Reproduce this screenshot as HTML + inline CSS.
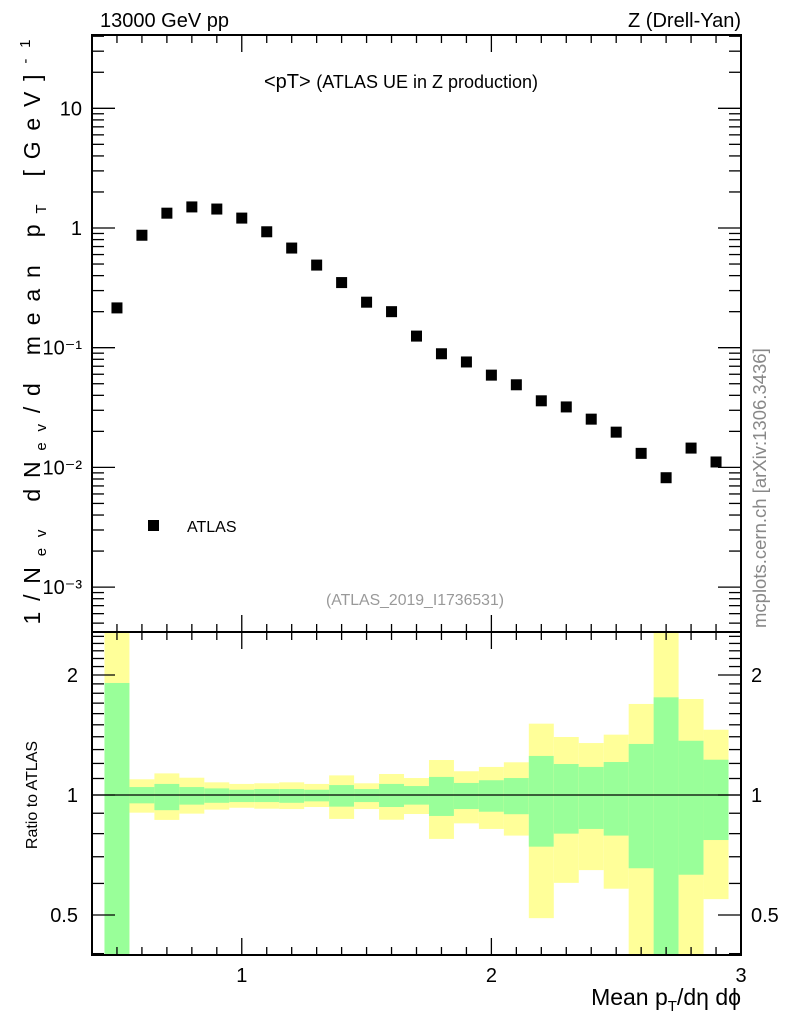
<!DOCTYPE html>
<html><head><meta charset="utf-8"><style>
body{margin:0;background:#fff}
svg text{font-family:"Liberation Sans",sans-serif}
</style></head><body>
<svg id="c" width="786" height="1024" xmlns="http://www.w3.org/2000/svg">
<text x="100" y="27" font-size="20">13000 GeV pp</text>
<text x="741" y="27" font-size="20" text-anchor="end">Z (Drell-Yan)</text>
<text x="264" y="88" font-size="20">&lt;pT&gt; <tspan font-size="18">(ATLAS UE in Z production)</tspan></text>
<text x="415" y="605" font-size="15.8" fill="#999" text-anchor="middle">(ATLAS_2019_I1736531)</text>
<text transform="translate(766,628) rotate(-90)" font-size="18.5" fill="#888">mcplots.cern.ch [arXiv:1306.3436]</text>
<text transform="translate(40,332) rotate(-90)" font-size="23" text-anchor="middle" textLength="585">1/N<tspan font-size="15" dy="6">ev</tspan><tspan dy="-6"> dN</tspan><tspan font-size="15" dy="6">ev</tspan><tspan dy="-6">/d mean p</tspan><tspan font-size="15" dy="6">T</tspan><tspan dy="-6"> [GeV]</tspan><tspan font-size="15" dy="-10">-1</tspan></text>
<text transform="translate(37,795) rotate(-90)" font-size="16" text-anchor="middle">Ratio to ATLAS</text>
<text x="741" y="1005" font-size="23" text-anchor="end">Mean p<tspan font-size="15" dy="6">T</tspan><tspan dy="-6">/dη dϕ</tspan></text>
<g id="g"></g>
</svg>
<script>
const xCenters=[0.5,0.6,0.7,0.8,0.9,1.0,1.1,1.2,1.3,1.4,1.5,1.6,1.7,1.8,1.9,2.0,2.1,2.2,2.3,2.4,2.5,2.6,2.7,2.8,2.9];
const atlasValues=[0.215,0.87,1.33,1.5,1.44,1.21,0.93,0.68,0.49,0.35,0.24,0.2,0.125,0.089,0.076,0.059,0.049,0.036,0.032,0.0253,0.0197,0.0131,0.0082,0.0145,0.0111];
const totalUp=[3.0,1.095,1.133,1.105,1.076,1.066,1.070,1.076,1.066,1.120,1.070,1.129,1.103,1.224,1.147,1.176,1.208,1.510,1.398,1.350,1.417,1.692,3.0,1.741,1.458];
const statUp=[1.91,1.047,1.066,1.047,1.039,1.031,1.035,1.035,1.031,1.059,1.035,1.066,1.053,1.110,1.072,1.089,1.103,1.253,1.196,1.176,1.210,1.343,1.758,1.368,1.226];
const statDown=[0.3,0.953,0.916,0.946,0.956,0.960,0.960,0.956,0.964,0.935,0.960,0.933,0.946,0.886,0.922,0.908,0.895,0.742,0.800,0.822,0.791,0.655,0.3,0.631,0.771];
const totalDown=[0.3,0.903,0.866,0.898,0.919,0.929,0.924,0.922,0.933,0.871,0.922,0.867,0.896,0.776,0.849,0.822,0.791,0.491,0.602,0.648,0.582,0.3,0.3,0.3,0.548];
const mainTicks=["10\u207B\u00B3","10\u207B\u00B2","10\u207B\u00B9","1","10"];
const ratioTicks=[0.5,1,2];
const xTicks=[1,2,3];
const binWidth=0.1;

const L=92,R=741,T=35,M=632,B=955;
const X0=0.4,X1=3.0;
const sx=v=>L+(v-X0)/(X1-X0)*(R-L);
const sy=v=>228-Math.log10(v)*119.7;
const RT=2.56,RB=0.397;
const sr=v=>{v=Math.min(RT,Math.max(RB,v));return 795-Math.log2(v)*120;};
const g=document.getElementById('g');
const NS='http://www.w3.org/2000/svg';
function mk(t,a){const e=document.createElementNS(NS,t);for(const k in a)e.setAttribute(k,a[k]);g.appendChild(e);return e;}

xCenters.forEach((x,i)=>{
  const x0=sx(x-binWidth/2),x1=sx(x+binWidth/2);
  let e=mk('rect',{x:x0,y:sr(totalUp[i]),width:x1-x0,height:sr(totalDown[i])-sr(totalUp[i]),fill:'#ffff99'});
  
  
  e=mk('rect',{x:x0,y:sr(statUp[i]),width:x1-x0,height:sr(statDown[i])-sr(statUp[i]),fill:'#99ff99'});
  
  
});
let ln=mk('line',{x1:L,x2:R,y1:sr(1),y2:sr(1),stroke:'#000','stroke-width':1.2});



xCenters.forEach((x,i)=>{
  const p=mk('rect',{x:sx(x)-5.5,y:sy(atlasValues[i])-5.5,width:11,height:11,fill:'#000'});
  
  
});
let lg=mk('rect',{x:148,y:520,width:11,height:11,fill:'#000'});


let lt=mk('text',{x:187,y:532,'font-size':16});lt.textContent='ATLAS';



[[T,M],[M,B]].forEach(([a,b])=>{
  const f=mk('rect',{x:L,y:a,width:R-L,height:b-a,fill:'none',stroke:'#000','stroke-width':2});
  
  
});
function tk(x1,y1,x2,y2){mk('line',{x1,y1,x2,y2,stroke:'#000','stroke-width':1.3});}
for(let k=4;k<=30;k++){
  const v=k/10,x=sx(v),maj=(k%10===0);
  const l=maj?17:8;
  tk(x,T,x,T+l);tk(x,M,x,M-l);tk(x,M,x,M+l);tk(x,B,x,B-l);
}
xTicks.forEach(v=>{const t=mk('text',{x:sx(v),y:982,'font-size':20,'text-anchor':'middle'});t.textContent=v;

});
for(let d=-4;d<=1;d++){
  for(let m=1;m<=9;m++){
    const v=m*Math.pow(10,d),y=sy(v);
    if(y<T||y>M)continue;
    const l=m===1?23:12;
    tk(L,y,L+l,y);tk(R,y,R-l,y);
  }
}
mainTicks.forEach((s,i)=>{const t=mk('text',{x:82,y:sy(Math.pow(10,i-3))+7,'font-size':20,'text-anchor':'end'});t.textContent=s;

});
[0.4,0.5,0.6,0.7,0.8,0.9,1,1.1,1.2,1.3,1.4,1.5,1.6,1.7,1.8,1.9,2,2.1,2.2,2.3,2.4,2.5].forEach(v=>{
  const y=sr(v);if(y<=M||y>=B)return;
  const l=(v===0.5||v===1||v===2)?23:12;
  tk(L,y,L+l,y);tk(R,y,R-l,y);
});
ratioTicks.forEach(v=>{
  let t=mk('text',{x:78,y:sr(v)+7,'font-size':20,'text-anchor':'end'});t.textContent=v;
  
  
  t=mk('text',{x:751,y:sr(v)+7,'font-size':20});t.textContent=v;
  
  
});
</script>
</body></html>
